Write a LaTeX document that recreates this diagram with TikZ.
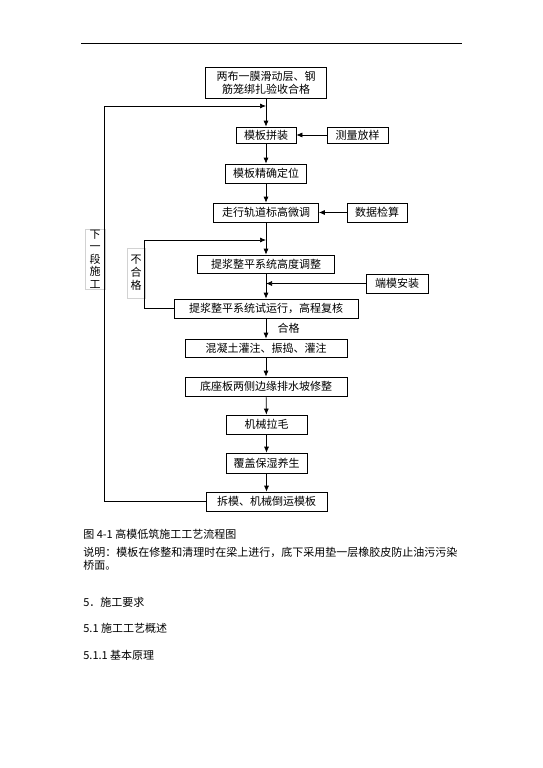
\documentclass[tikz,border=0pt]{standalone}
\usepackage{fontspec}
\setmainfont{Noto Sans CJK SC}
\usetikzlibrary{arrows.meta}

\begin{document}
\begin{tikzpicture}[x=1pt,y=-1pt,->,>={Latex[length=6pt,width=5pt]},line width=0.7pt,
    font=\fontsize{11}{13}\selectfont,
    step node/.style={draw,inner sep=1pt,align=center},
    note node/.style={draw=gray!35,line width=0.5pt,inner sep=1pt,align=center},
    text line/.style={anchor=west,inner sep=0pt}]
  \useasboundingbox (0,0) rectangle (542,768);
  \draw[-,line width=0.5pt] (81,43) -- (462,43);
  % main column
  \node[step node,minimum width=121pt,minimum height=31pt] (a) at (266,82.5) {两布一膜滑动层、钢\\筋笼绑扎验收合格};
  \node[step node,minimum width=60pt,minimum height=16pt] (b) at (266,135) {模板拼装};
  \node[step node,minimum width=81pt,minimum height=19pt] (c) at (266,173.5) {模板精确定位};
  \node[step node,minimum width=105pt,minimum height=19pt] (d) at (266,212.5) {走行轨道标高微调};
  \node[step node,minimum width=137pt,minimum height=18pt] (e) at (266,264) {提浆整平系统高度调整};
  \node[step node,minimum width=184pt,minimum height=19pt] (f) at (266,308.5) {提浆整平系统试运行，高程复核};
  \node[step node,minimum width=162pt,minimum height=18pt] (g) at (266,348) {混凝土灌注、振捣、灌注};
  \node[step node,minimum width=162pt,minimum height=19pt] (h) at (266,386.5) {底座板两侧边缘排水坡修整};
  \node[step node,minimum width=81pt,minimum height=19pt] (i) at (266.5,424.5) {机械拉毛};
  \node[step node,minimum width=81pt,minimum height=20pt] (j) at (266.5,463) {覆盖保湿养生};
  \node[step node,minimum width=121pt,minimum height=19pt] (k) at (266.5,501.5) {拆模、机械倒运模板};
  % side inputs
  \node[step node,minimum width=61pt,minimum height=16pt] (b2) at (357.5,135) {测量放样};
  \node[step node,minimum width=60pt,minimum height=19pt] (d2) at (377,212.5) {数据检算};
  \node[step node,minimum width=62pt,minimum height=19pt] (e2) at (397,283.5) {端模安装};
  \coordinate (in1) at (266,106);
  \coordinate (in2) at (266,240);
  \coordinate (in3) at (266,283.5);
  % labels of the loops
  \node[note node,minimum width=20pt,minimum height=60pt,font=\fontsize{11}{12.5}\selectfont] (next) at (95,259) {下\\一\\段\\施\\工};
  \node[note node,minimum width=18pt,minimum height=50pt] (fail) at (136,273) {不\\合\\格};
  \path (a) edge (b)
        (b) edge (c)
        (c) edge (d)
        (d) edge (e)
        (e) edge (f)
        (g) edge (h)
        (h) edge (i)
        (i) edge (j)
        (j) edge (k);
  \draw (f) -- node[right=8pt] {合格} (g);
  \draw (b2) -- (b);
  \draw (d2) -- (d);
  \draw (e2) -- (in3);
  \draw (k.west) -- ++(-101,0) |- (in1);
  \draw (f.west) -- ++(-29,0) |- (in2);
  % text below
  \node[text line] (cap) at (83,534) {图 4-1 高模低筑施工工艺流程图};
  \node[text line] (n1) at (83,552) {说明：模板在修整和清理时在梁上进行，底下采用垫一层橡胶皮防止油污污染};
  \node[text line] (n2) at (83,565) {桥面。};
  \node[text line] (h1) at (83,602) {5．施工要求};
  \node[text line] (h2) at (83,628) {5.1 施工工艺概述};
  \node[text line] (h3) at (83,655) {5.1.1 基本原理};
\end{tikzpicture}
\end{document}
